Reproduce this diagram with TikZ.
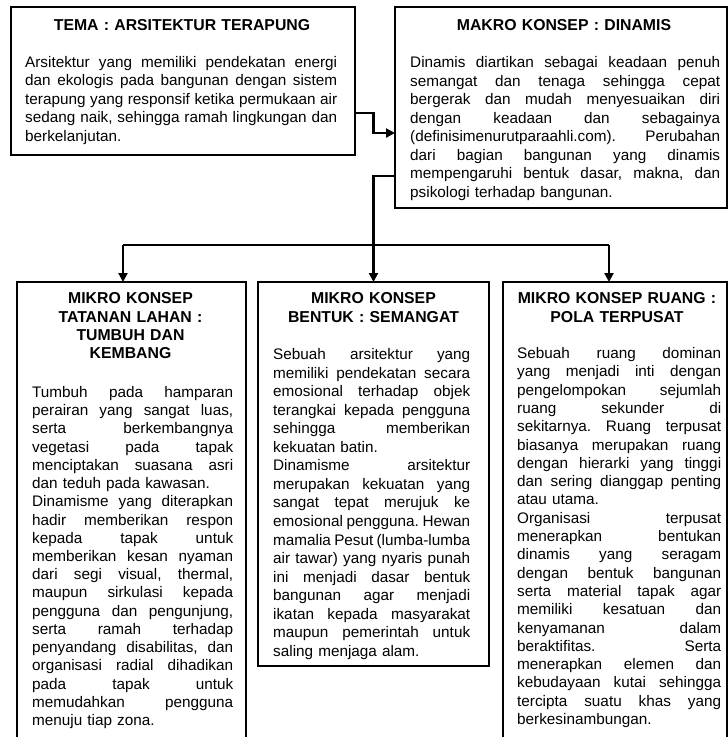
\documentclass[tikz,border=0pt]{standalone}
\usepackage{fontspec}
\setmainfont{Liberation Sans}
\usetikzlibrary{arrows.meta}
\frenchspacing
\newcommand\J[1]{\makebox[\linewidth][s]{\spaceskip=0pt\xspaceskip=0pt\relax #1}}
\begin{document}
\begin{tikzpicture}[x=1pt,y=-1pt,
  box/.style={draw=black, line width=1.5pt, inner sep=0pt, outer sep=0pt, anchor=north west},
  conn/.style={draw=black, line width=2.2pt},
  arr/.style={conn, -{Triangle[length=9pt,width=9pt]}},
  ttl/.style={font=\fontsize{15.8}{18.3}\selectfont\bfseries, align=center, anchor=base, inner sep=0pt},
  body/.style={font=\fontsize{15.3}{#1}\selectfont\frenchspacing, align=left, anchor=base west, inner sep=0pt},
]
\useasboundingbox (0,0) rectangle (728,737);
\clip (0,0) rectangle (728,737);
\fill[white] (0,0) rectangle (728,737);

% boxes
\node[box, minimum width=344pt, minimum height=148pt] (tl) at (11,7) {};
\node[box, minimum width=332pt, minimum height=201pt] (tr) at (395,7) {};
\node[box, minimum width=229pt, minimum height=470pt] (bl) at (17,282) {};
\node[box, minimum width=231pt, minimum height=384pt] (bm) at (258,282) {};
\node[box, minimum width=224pt, minimum height=470pt] (br) at (503,282) {};

% titles
\node[ttl, text width=330pt] (tlt) at (182,30.8) {TEMA : ARSITEKTUR TERAPUNG};
\node[ttl, text width=320pt] (trt) at (564,30.8) {MAKRO KONSEP : DINAMIS};
\node[ttl, text width=210pt] (blt) at (130.5,303.8) {MIKRO KONSEP\\TATANAN LAHAN :\\TUMBUH DAN\\KEMBANG};
\node[ttl, text width=220pt] (bmt) at (373.5,303.8) {MIKRO KONSEP\\BENTUK : SEMANGAT};
\node[ttl, text width=220pt] (brt) at (617,303.8) {MIKRO KONSEP RUANG :\\POLA TERPUSAT};

% bodies
\node[body=18.45, text width=312pt] (tlb) at (25,67.5) {%
\J{Arsitektur yang memiliki pendekatan energi}\\
\J{dan ekologis pada bangunan dengan sistem}\\
\J{terapung yang responsif ketika permukaan air}\\
\J{sedang naik, sehingga ramah lingkungan dan}\\
berkelanjutan.};

\node[body=18.55, text width=310pt] (trb) at (410,67.5) {%
\J{Dinamis diartikan sebagai keadaan penuh}\\
\J{semangat dan tenaga sehingga cepat}\\
\J{bergerak dan mudah menyesuaikan diri}\\
\J{dengan keadaan dan sebagainya}\\
\J{(definisimenurutparaahli.com). Perubahan}\\
\J{dari bagian bangunan yang dinamis}\\
\J{mempengaruhi bentuk dasar, makna, dan}\\
psikologi terhadap bangunan.};

\node[body=18.22, text width=201pt] (blb) at (32,397.5) {%
\J{Tumbuh pada hamparan}\\
\J{perairan yang sangat luas,}\\
\J{serta berkembangnya}\\
\J{vegetasi pada tapak}\\
\J{menciptakan suasana asri}\\
dan teduh pada kawasan.\\
\J{Dinamisme yang diterapkan}\\
\J{hadir memberikan respon}\\
\J{kepada tapak untuk}\\
\J{memberikan kesan nyaman}\\
\J{dari segi visual, thermal,}\\
\J{maupun sirkulasi kepada}\\
\J{pengguna dan pengunjung,}\\
\J{serta ramah terhadap}\\
\J{penyandang disabilitas, dan}\\
\J{organisasi radial dihadikan}\\
\J{pada tapak untuk}\\
\J{memudahkan pengguna}\\
menuju tiap zona.};

\node[body=18.56, text width=197pt] (bmb) at (273,359.5) {%
\J{Sebuah arsitektur yang}\\
\J{memiliki pendekatan secara}\\
\J{emosional terhadap objek}\\
\J{terangkai kepada pengguna}\\
\J{sehingga memberikan}\\
kekuatan batin.\\
\J{Dinamisme arsitektur}\\
\J{merupakan kekuatan yang}\\
\J{sangat tepat merujuk ke}\\
\J{emosional pengguna. Hewan}\\
\J{mamalia Pesut (lumba-lumba}\\
\J{air tawar) yang nyaris punah}\\
\J{ini menjadi dasar bentuk}\\
\J{bangunan agar menjadi}\\
\J{ikatan kepada masyarakat}\\
\J{maupun pemerintah untuk}\\
saling menjaga alam.};

\node[body=18.3, text width=204pt] (brb) at (517,358.5) {%
\J{Sebuah ruang dominan}\\
\J{yang menjadi inti dengan}\\
\J{pengelompokan sejumlah}\\
\J{ruang sekunder di}\\
\J{sekitarnya. Ruang terpusat}\\
\J{biasanya merupakan ruang}\\
\J{dengan hierarki yang tinggi}\\
\J{dan sering dianggap penting}\\
atau utama.\\
\J{Organisasi terpusat}\\
\J{menerapkan bentukan}\\
\J{dinamis yang seragam}\\
\J{dengan bentuk bangunan}\\
\J{serta material tapak agar}\\
\J{memiliki kesatuan dan}\\
\J{kenyamanan dalam}\\
\J{beraktifitas. Serta}\\
\J{menerapkan elemen dan}\\
\J{kebudayaan kutai sehingga}\\
\J{tercipta suatu khas yang}\\
berkesinambungan.};

% connector points
\coordinate (j1) at (373.5,113);
\coordinate (j2) at (373.5,133);
\coordinate (k1) at (373.5,176);
\coordinate (bus) at (373.5,245);
\coordinate (la) at (123,245);
\coordinate (ra) at (609,245);

% connectors
\draw[arr] (tl.east |- j1) -- (j1) -- (j2) -- (tr.west |- j2);
\draw[arr] (tr.west |- k1) -- (k1) -- (bus) -- (bm.north);
\draw[conn] (la) -- (ra);
\draw[arr] (la) -- (la |- bl.north);
\draw[arr] (ra) -- (ra |- br.north);
\end{tikzpicture}
\end{document}
